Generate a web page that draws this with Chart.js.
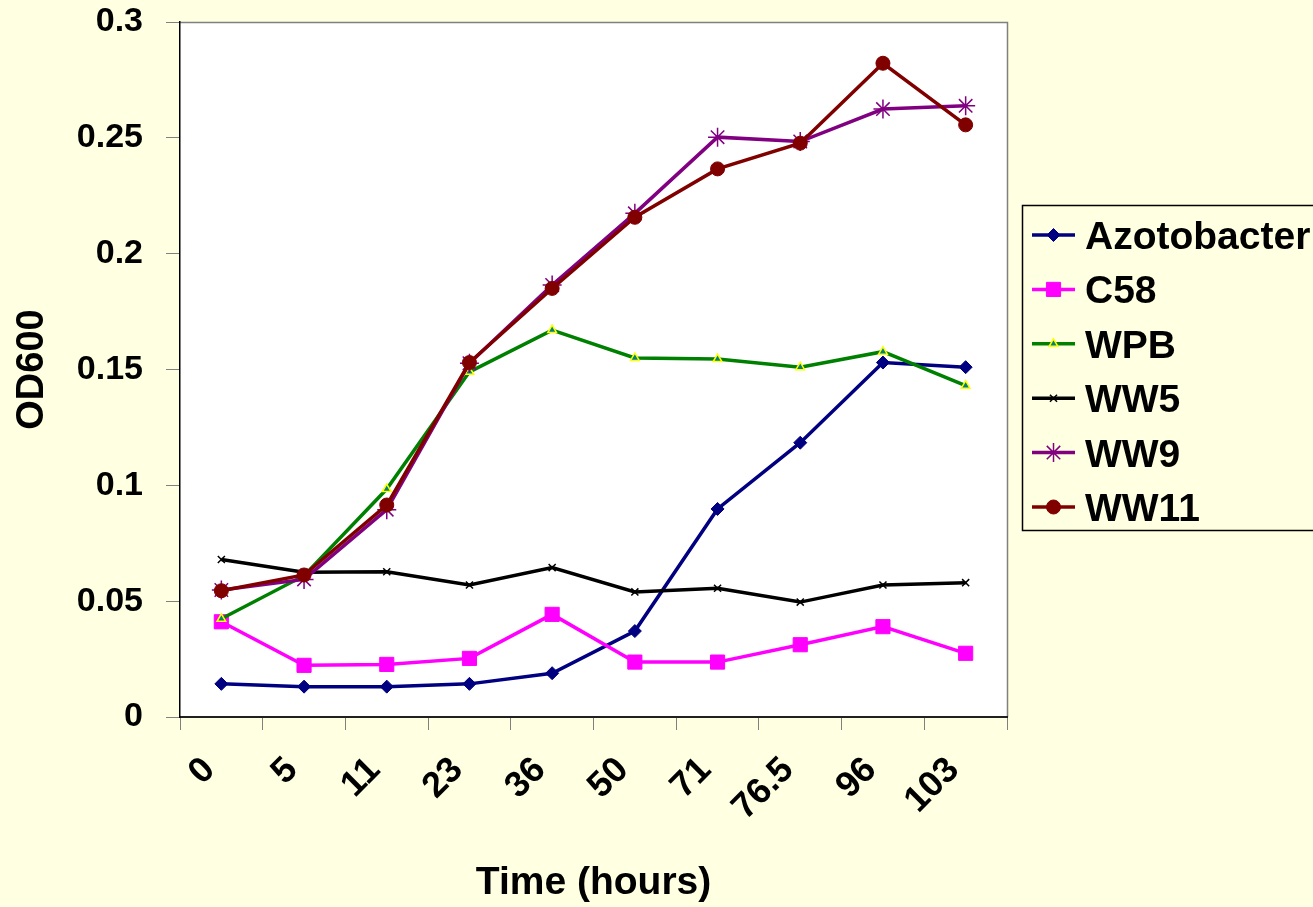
<!DOCTYPE html>
<html>
<head>
<meta charset="utf-8">
<title>OD600 growth curves</title>
<script src="https://cdn.jsdelivr.net/npm/chart.js@4.4.1/dist/chart.umd.min.js"></script>
<style>
  html, body { margin: 0; padding: 0; background: #FFFFE1; }
  #wrap { width: 1313px; height: 907px; }
</style>
</head>
<body>
<div id="wrap"><canvas id="growth" width="1313" height="907"></canvas></div>
<script>
// Sampling times (hours) used as category labels
const timeLabels = ['0', '5', '11', '23', '36', '50', '71', '76.5', '96', '103'];
const yTickLabels = ['0', '0.05', '0.1', '0.15', '0.2', '0.25', '0.3'];

// OD600 readings per strain
const azotobacter = [0.0143, 0.0131, 0.0131, 0.0143, 0.0189, 0.0371, 0.0898, 0.1184, 0.1530, 0.1510];
const c58         = [0.0411, 0.0223, 0.0227, 0.0253, 0.0443, 0.0237, 0.0237, 0.0312, 0.0390, 0.0275];
const wpb         = [0.0424, 0.0610, 0.0984, 0.1490, 0.1670, 0.1550, 0.1545, 0.1510, 0.1577, 0.1430];
const ww5         = [0.0680, 0.0625, 0.0627, 0.0570, 0.0645, 0.0540, 0.0556, 0.0496, 0.0570, 0.0580];
const ww9         = [0.0548, 0.0594, 0.0895, 0.1527, 0.1865, 0.2174, 0.2503, 0.2484, 0.2624, 0.2638];
const ww11        = [0.0545, 0.0613, 0.0915, 0.1530, 0.1850, 0.2157, 0.2366, 0.2477, 0.2822, 0.2556];

const FONT = '"Liberation Sans", Arial, Helvetica, sans-serif';
const PAGE_BG = '#FFFFE1';

function series(label, data, color, style, radius, fill, stroke, bw, order) {
  return {
    label, data, order,
    borderColor: color,
    borderWidth: 3.5,
    tension: 0,
    fill: false,
    pointStyle: style,
    pointRadius: radius,
    pointHoverRadius: radius,
    pointBackgroundColor: fill,
    pointBorderColor: stroke,
    pointBorderWidth: bw
  };
}

const datasets = [
  series('Azotobacter', azotobacter, '#000080', 'rectRot', 6.5, '#000080', '#000080', 1, 6),
  series('C58', c58, '#FF00FF', 'rect', 10, '#FF00FF', '#FF00FF', 1, 5),
  series('WPB', wpb, '#008000', 'triangle', 5, '#008080', '#FFFF00', 1.5, 4),
  series('WW5', ww5, '#000000', 'crossRot', 5, '#000000', '#000000', 1.5, 3),
  series('WW9', ww9, '#800080', 'star', 9.5, '#800080', '#800080', 1.5, 2),
  series('WW11', ww11, '#800000', 'circle', 7, '#800000', '#800000', 1, 1)
];

// Page background, white plot area and thin grey frame on top/right
const frame = {
  id: 'frame',
  beforeDraw(chart) {
    const { ctx, chartArea: a } = chart;
    ctx.save();
    ctx.fillStyle = PAGE_BG;
    ctx.fillRect(0, 0, chart.width, chart.height);
    ctx.fillStyle = '#FFFFFF';
    ctx.fillRect(a.left, a.top, a.right - a.left, a.bottom - a.top);
    ctx.strokeStyle = '#808080';
    ctx.lineWidth = 1.5;
    ctx.beginPath();
    ctx.moveTo(a.left, a.top + 0.5);
    ctx.lineTo(a.right + 0.5, a.top + 0.5);
    ctx.lineTo(a.right + 0.5, a.bottom);
    ctx.stroke();
    ctx.restore();
  }
};

// Boxed key to the right of the plot: line sample, marker and name per strain
const seriesKey = {
  id: 'seriesKey',
  afterDraw(chart) {
    const ctx = chart.ctx;
    ctx.save();
    ctx.strokeStyle = '#000000';
    ctx.lineWidth = 1.5;
    ctx.strokeRect(1022.5, 205.5, 340, 325);
    chart.data.datasets.forEach((ds, i) => {
      const y = 235 + i * 54.4;
      ctx.strokeStyle = ds.borderColor;
      ctx.lineWidth = ds.borderWidth;
      ctx.beginPath();
      ctx.moveTo(1032, y);
      ctx.lineTo(1075, y);
      ctx.stroke();
      ctx.fillStyle = ds.pointBackgroundColor;
      ctx.strokeStyle = ds.pointBorderColor;
      ctx.lineWidth = ds.pointBorderWidth;
      Chart.helpers.drawPoint(ctx, {
        pointStyle: ds.pointStyle, radius: ds.pointRadius,
        borderWidth: ds.pointBorderWidth, rotation: 0
      }, 1053.5, y);
      ctx.fillStyle = '#000000';
      ctx.font = 'bold 39px ' + FONT;
      ctx.textBaseline = 'alphabetic';
      ctx.textAlign = 'left';
      ctx.fillText(ds.label, 1085, y + 14);
    });
    ctx.restore();
  }
};

new Chart(document.getElementById('growth'), {
  type: 'line',
  data: { labels: timeLabels, datasets },
  plugins: [frame, seriesKey],
  options: {
    responsive: false,
    animation: false,
    devicePixelRatio: 1,
    layout: { padding: { left: 0, right: 306, top: 22, bottom: 0 } },
    plugins: { legend: { display: false }, tooltip: { enabled: false } },
    scales: {
      x: {
        type: 'category',
        offset: true,
        grid: { offset: true, drawOnChartArea: false, drawTicks: true, tickLength: 13, color: '#808080', lineWidth: 1 },
        border: { display: true, color: '#202020', width: 2 },
        ticks: {
          autoSkip: false, minRotation: 45, maxRotation: 45, padding: 19, labelOffset: -12,
          color: '#000000', font: { family: FONT, size: 36, weight: 'bold' }
        },
        title: {
          display: true, text: 'Time (hours)', color: '#000000',
          font: { family: FONT, size: 39, weight: 'bold' }, padding: { top: 2, bottom: 0 }
        },
        afterFit(scale) { scale.height = 190; scale.paddingLeft = 0; scale.paddingRight = 0; }
      },
      y: {
        min: 0, max: 0.3,
        grid: { drawOnChartArea: false, drawTicks: true, tickLength: 14, color: '#808080', lineWidth: 1 },
        border: { display: true, color: '#000000', width: 1.5 },
        ticks: {
          stepSize: 0.05, padding: 23, color: '#000000',
          font: { family: FONT, size: 34, weight: 'bold' },
          callback: (v, i) => yTickLabels[i]
        },
        title: {
          display: true, text: 'OD600', color: '#000000',
          font: { family: FONT, size: 38, weight: 'bold' }, padding: { top: 10, bottom: 0 }
        },
        afterFit(scale) { scale.width = 180; scale.paddingTop = 0; scale.paddingBottom = 0; }
      }
    }
  }
});
</script>
</body>
</html>
